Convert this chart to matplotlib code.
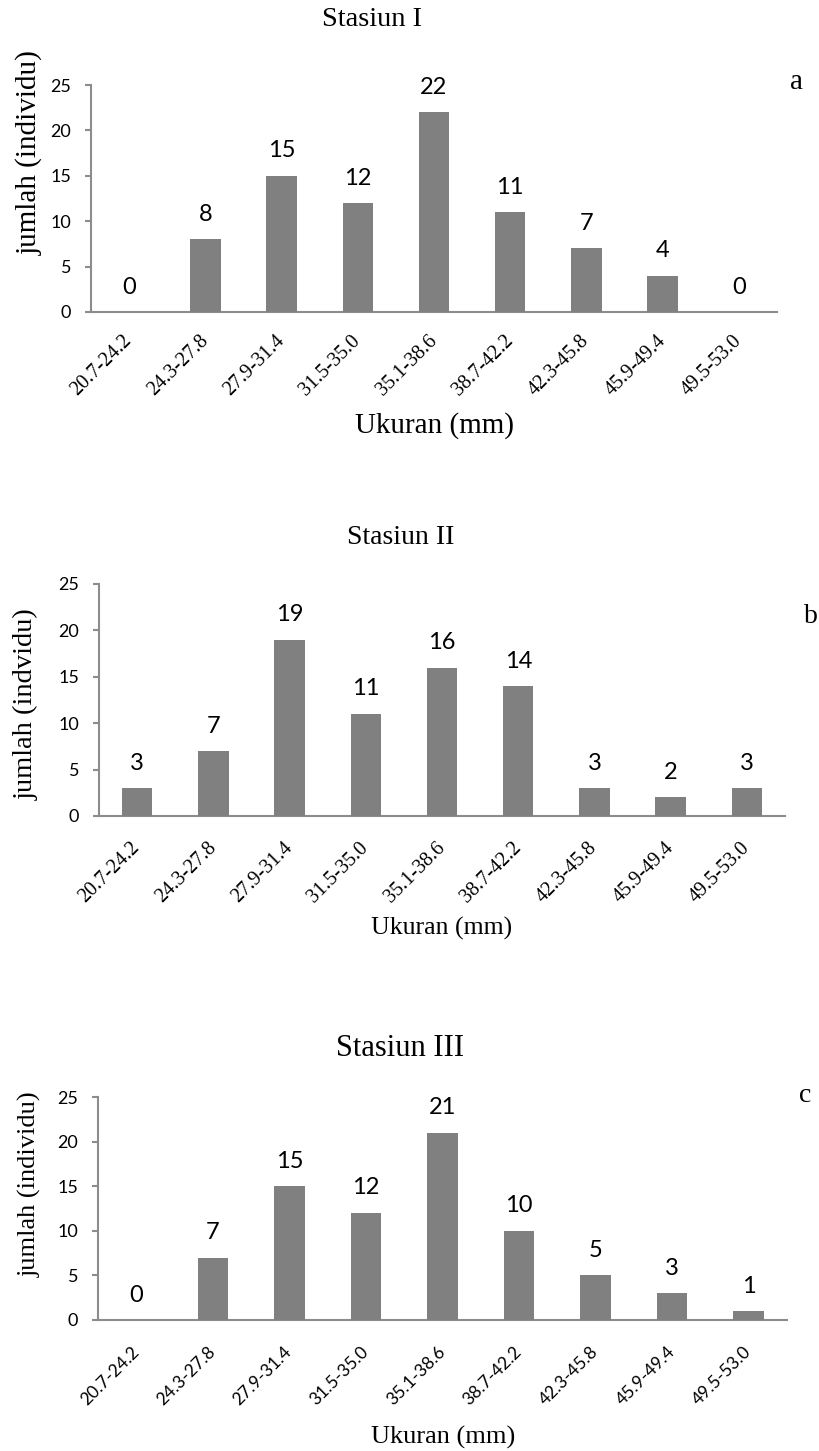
import matplotlib
matplotlib.use("Agg")
import matplotlib.pyplot as plt
import numpy as np

categories = ["20.7-24.2", "24.3-27.8", "27.9-31.4", "31.5-35.0", "35.1-38.6",
              "38.7-42.2", "42.3-45.8", "45.9-49.4", "49.5-53.0"]
stasiun1 = [0, 8, 15, 12, 22, 11, 7, 4, 0]
stasiun2 = [3, 7, 19, 11, 16, 14, 3, 2, 3]
stasiun3 = [0, 7, 15, 12, 21, 10, 5, 3, 1]
titles = ["Stasiun I", "Stasiun II", "Stasiun III"]
ylabels = ["jumlah (individu)", "jumlah (indvidu)", "jumlah (individu)"]
letters = ["a", "b", "c"]
yticks = [0, 5, 10, 15, 20, 25]

SERIF = ["Liberation Serif", "DejaVu Serif"]
SANS = ["Lato", "Open Sans", "DejaVu Sans"]
BAR = "#808080"
AX = "#8c8c8c"

W, H = 820, 1451
fig = plt.figure(figsize=(W / 100, H / 100), dpi=100)


def fx(px):
    return px / W


def fy(py):
    return 1 - py / H


panels = [
    dict(data=stasiun1, left=91, right=777, top=85, bot=312,
         title=(372, 20, 20.5), xl=(435, 426, 21), yl=(29, 153, 21),
         tick_family=SERIF, tick_fs=14.5, tick_pad=19, letter=(797, 82, 21)),
    dict(data=stasiun2, left=99, right=785, top=584, bot=816,
         title=(401, 537, 20), xl=(442, 928, 18.5), yl=(26, 704, 20.5),
         tick_family=SERIF, tick_fs=14.5, tick_pad=21, letter=(811, 617, 20)),
    dict(data=stasiun3, left=98, right=787, top=1097, bot=1320,
         title=(400, 1048, 22), xl=(443, 1437, 19), yl=(30, 1184, 19),
         tick_family=SANS, tick_fs=12.5, tick_pad=21, letter=(805, 1095, 20)),
]

x = np.arange(len(categories))
for i, p in enumerate(panels):
    ax = fig.add_axes([fx(p["left"]), fy(p["bot"]), fx(p["right"] - p["left"]),
                       (p["bot"] - p["top"]) / H])
    ax.bar(x, p["data"], width=0.4, color=BAR, zorder=3)
    ax.set_xlim(-0.5, len(categories) - 0.5)
    ax.set_ylim(0, 25)
    ax.set_yticks(yticks)
    ax.set_yticklabels([str(t) for t in yticks], family=SANS, fontsize=13)
    ax.set_xticks(x)
    ax.set_xticklabels(categories, rotation=45, ha="right", va="center",
                       rotation_mode="anchor", family=p["tick_family"],
                       fontsize=p["tick_fs"])
    ax.tick_params(axis="x", length=0, pad=p["tick_pad"])
    ax.tick_params(axis="y", length=4.3, color=AX, width=1.5, pad=10)
    for s in ["top", "right"]:
        ax.spines[s].set_visible(False)
    for s in ["left", "bottom"]:
        ax.spines[s].set_color(AX)
        ax.spines[s].set_linewidth(1.5)
    for xi, v in zip(x, p["data"]):
        ax.annotate(str(v), (xi, v), xytext=(0, 18), textcoords="offset points",
                    ha="center", va="center", family=SANS, fontsize=17)
    tx, ty, tfs = p["title"]
    fig.text(fx(tx), fy(ty), titles[i], ha="center", va="center",
             family=SERIF, fontsize=tfs)
    lx, ly, lfs = p["xl"]
    fig.text(fx(lx), fy(ly), "Ukuran (mm)", ha="center", va="center",
             family=SERIF, fontsize=lfs)
    yx, yy, yfs = p["yl"]
    fig.text(fx(yx), fy(yy), ylabels[i], rotation=90, ha="center", va="center",
             family=SERIF, fontsize=yfs)
    cx, cy, cfs = p["letter"]
    fig.text(fx(cx), fy(cy), letters[i], ha="center", va="center",
             family=SERIF, fontsize=cfs)

fig.savefig("out.png", dpi=100, facecolor="white")
